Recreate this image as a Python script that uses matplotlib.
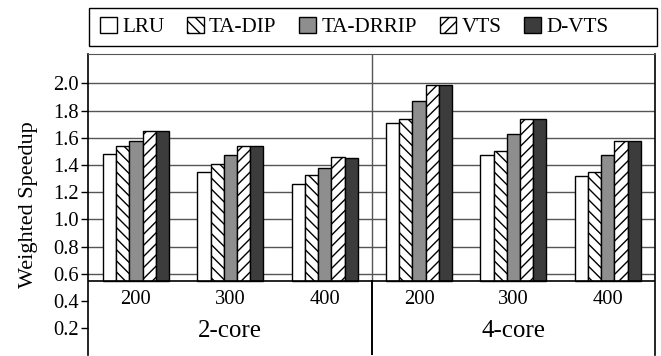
import numpy as np
import matplotlib
matplotlib.use("Agg")
import matplotlib.pyplot as plt
from matplotlib.patches import Rectangle, Patch

plt.rcParams["font.family"] = ["Liberation Serif", "DejaVu Serif"]
plt.rcParams["hatch.linewidth"] = 1.0

# data
policies = ["LRU", "TA-DIP", "TA-DRRIP", "VTS", "D-VTS"]
group_labels = ["200", "300", "400", "200", "300", "400"]
core_labels = ["2-core", "4-core"]
lru = [1.48, 1.35, 1.26, 1.71, 1.47, 1.32]
ta_dip = [1.54, 1.41, 1.33, 1.74, 1.50, 1.35]
ta_drrip = [1.58, 1.47, 1.38, 1.87, 1.63, 1.47]
vts = [1.65, 1.54, 1.46, 1.99, 1.74, 1.58]
d_vts = [1.65, 1.54, 1.45, 1.99, 1.74, 1.58]
series = [lru, ta_dip, ta_drrip, vts, d_vts]

colors = ["white", "white", "#8e8e8e", "white", "#3c3c3c"]
hatches = [None, "\\\\\\", None, "///", None]
base = 0.55
yticks = [0.2, 0.4, 0.6, 0.8, 1.0, 1.2, 1.4, 1.6, 1.8, 2.0]

fig = plt.figure(figsize=(6.61, 3.56), dpi=100)
ax = fig.add_axes([88.3 / 661, 0.6 / 356, (655 - 88.3) / 661, (355.4 - 54.3) / 356])
ax.set_xlim(-0.505, 5.5)
ax.set_ylim(0, 2.214)

x = np.arange(len(group_labels))
w = 0.14
# gridlines only above the baseline
for t in yticks:
    if t > base:
        ax.axhline(t, color="#555555", lw=1.0, zorder=0)

for i, vals in enumerate(series):
    heights = np.array(vals) - base
    ax.bar(x + (i - 2) * w, heights, w, bottom=base, color=colors[i], hatch=hatches[i],
           edgecolor="black", linewidth=1.0, zorder=3)

ax.axhline(base, color="black", lw=1.2, zorder=4)
ax.plot([2.5, 2.5], [base, 2.214], color="#555555", lw=1.0, zorder=1)
ax.plot([2.5, 2.5], [0, base], color="black", lw=1.4, zorder=4)

for xi, lab in zip(x, group_labels):
    ax.text(xi, 0.41, lab, ha="center", va="center", fontsize=14.8)
for xi, lab in zip([1, 4], core_labels):
    ax.text(xi, 0.18, lab, ha="center", va="center", fontsize=18)

ax.set_yticks(yticks)
ax.set_yticklabels(["%.1f" % t for t in yticks], fontsize=14.8)
ax.set_xticks([])
ax.tick_params(axis="y", length=5, width=1, pad=2)
ax.set_ylabel("Weighted Speedup", fontsize=16, labelpad=11)
ax.spines["bottom"].set_visible(False)
ax.spines["top"].set_color("#555555")
for s in ["left", "right"]:
    ax.spines[s].set_linewidth(1.2)

# legend box
fig.patches.append(Rectangle((88.6 / 661, 1 - 46 / 356), (656.5 - 88.6) / 661, (46 - 8.3) / 356,
                             transform=fig.transFigure, fill=False, edgecolor="black", lw=1.0))
handles = [Patch(facecolor=colors[i], hatch=hatches[i], edgecolor="black", lw=1.0)
           for i in range(len(policies))]
fig.legend(handles, policies, loc="center left", bbox_to_anchor=(100 / 661, 1 - 27 / 356),
           ncol=5, frameon=False, fontsize=15.2, handlelength=0.8, handleheight=0.8,
           handletextpad=0.24, columnspacing=1.08, borderpad=0, borderaxespad=0)

fig.savefig("out.png", dpi=100)
